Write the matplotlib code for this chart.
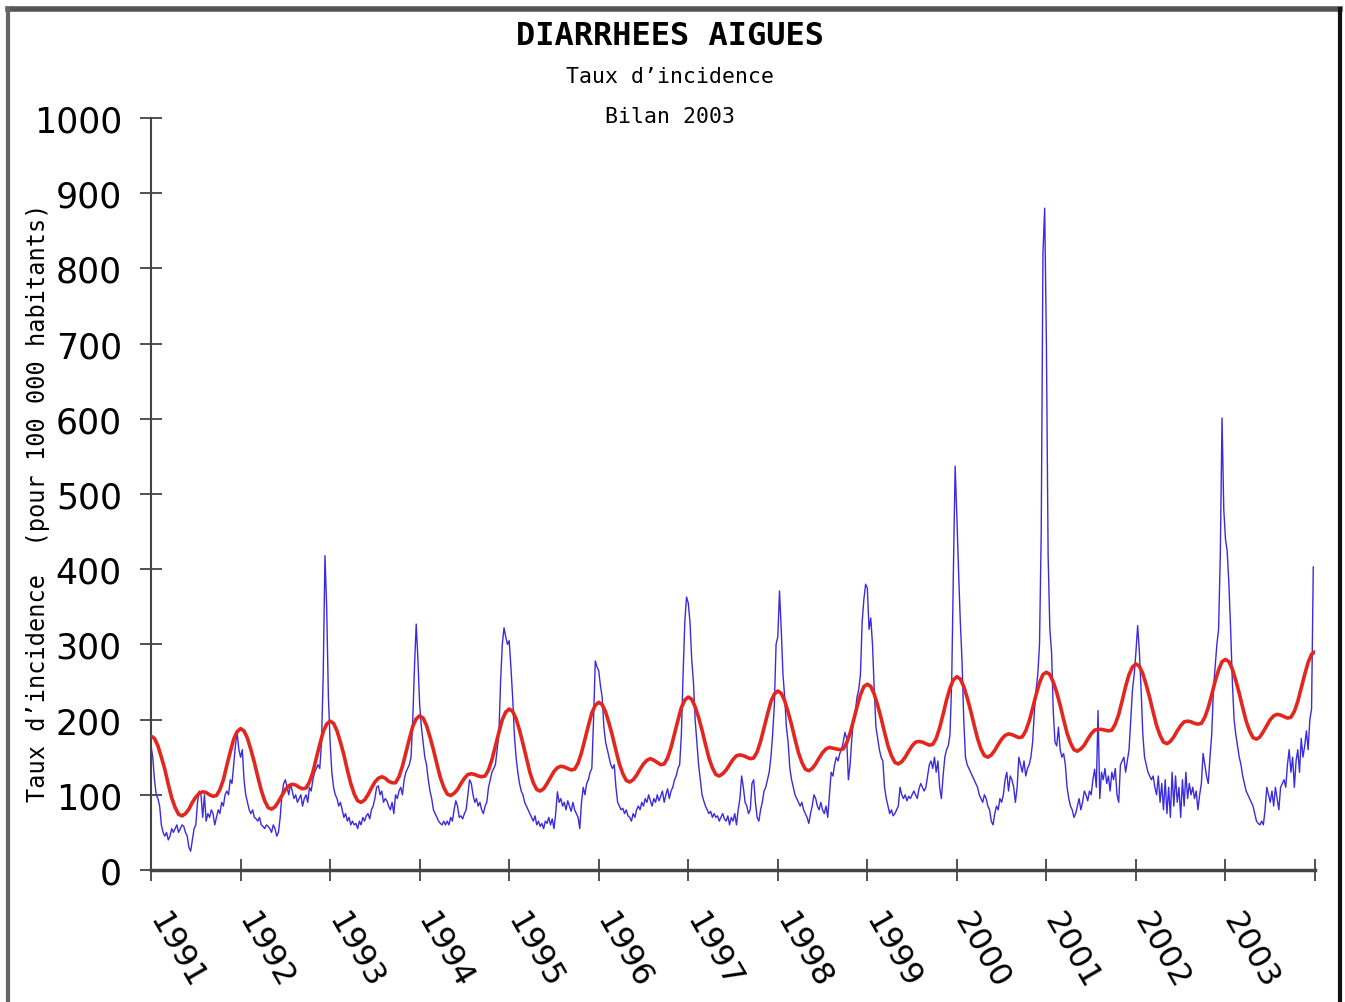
import numpy as np
import matplotlib.pyplot as plt
from matplotlib.lines import Line2D
from matplotlib.transforms import ScaledTranslation

years = list(range(1991, 2004))
year_labels = [str(y) for y in years]

# weekly incidence (52 values per year)
inc_1991 = [165, 150, 120, 100, 95, 85, 60, 50, 45, 50, 40, 45, 55,
            50, 55, 60, 50, 55, 60, 58, 50, 45, 30, 25, 40, 55,
            60, 90, 105, 100, 70, 100, 65, 75, 70, 80, 75, 60, 70,
            80, 75, 90, 85, 100, 105, 100, 120, 115, 140, 165, 183, 160]
inc_1992 = [150, 160, 120, 100, 90, 80, 75, 80, 70, 68, 65, 70, 60,
            58, 55, 60, 58, 55, 50, 60, 55, 45, 50, 70, 100, 115,
            120, 110, 100, 115, 105, 95, 100, 90, 95, 100, 85, 95, 100,
            90, 110, 105, 120, 130, 135, 140, 135, 170, 260, 418, 350, 230]
inc_1993 = [170, 130, 110, 100, 95, 85, 90, 80, 70, 75, 65, 70, 60,
            65, 60, 62, 55, 65, 60, 70, 65, 72, 75, 68, 80, 85,
            95, 110, 112, 100, 105, 90, 95, 92, 85, 80, 90, 75, 100,
            95, 105, 110, 100, 120, 130, 135, 140, 150, 200, 270, 327, 280]
inc_1994 = [220, 190, 170, 150, 140, 120, 105, 95, 80, 75, 70, 65, 62,
            60, 65, 60, 65, 60, 70, 65, 80, 92, 85, 70, 72, 68,
            75, 80, 100, 120, 115, 100, 90, 95, 85, 90, 80, 75, 85,
            90, 110, 120, 130, 135, 140, 160, 180, 250, 300, 322, 310, 300]
inc_1995 = [305, 270, 230, 180, 150, 130, 115, 105, 100, 90, 85, 80, 75,
            70, 65, 72, 60, 65, 58, 62, 55, 65, 62, 70, 60, 68,
            55, 75, 104, 90, 95, 85, 90, 80, 92, 85, 78, 90, 80,
            75, 70, 55, 90, 110, 100, 115, 120, 130, 135, 200, 278, 270]
inc_1996 = [265, 245, 230, 190, 170, 160, 150, 140, 135, 140, 110, 90, 85,
            80, 82, 75, 80, 72, 70, 65, 75, 70, 80, 85, 80, 90,
            85, 95, 90, 100, 92, 85, 95, 90, 100, 92, 98, 105, 90,
            100, 108, 95, 105, 110, 120, 125, 135, 140, 180, 260, 330, 363]
inc_1997 = [355, 330, 280, 250, 200, 170, 140, 120, 100, 92, 85, 80, 75,
            78, 70, 75, 70, 72, 65, 70, 75, 68, 65, 72, 60, 70,
            65, 75, 60, 80, 95, 125, 110, 90, 85, 75, 80, 115, 120,
            90, 70, 65, 80, 90, 105, 110, 120, 130, 150, 180, 220, 300]
inc_1998 = [310, 371, 320, 260, 230, 190, 170, 135, 120, 110, 100, 95, 90,
            85, 90, 80, 75, 70, 62, 75, 85, 100, 95, 85, 80, 90,
            80, 75, 85, 70, 100, 130, 125, 140, 150, 145, 155, 160, 170,
            183, 175, 120, 140, 175, 200, 210, 230, 240, 260, 330, 360, 380]
inc_1999 = [375, 320, 335, 300, 240, 190, 175, 160, 150, 145, 110, 95, 85,
            75, 80, 72, 75, 80, 85, 110, 100, 95, 100, 92, 98, 95,
            100, 105, 100, 95, 108, 115, 110, 105, 110, 125, 140, 145, 135,
            150, 130, 145, 110, 95, 125, 150, 160, 165, 180, 250, 400, 537]
inc_2000 = [470, 396, 330, 278, 200, 150, 140, 135, 130, 125, 120, 115, 110,
            100, 95, 90, 100, 95, 85, 80, 65, 60, 75, 85, 80, 95,
            90, 100, 120, 130, 105, 125, 120, 110, 90, 110, 150, 140, 130,
            145, 125, 135, 140, 150, 170, 210, 240, 260, 300, 450, 820, 880]
inc_2001 = [700, 418, 320, 290, 210, 170, 165, 190, 160, 150, 155, 140, 110,
            95, 85, 80, 70, 75, 85, 95, 80, 90, 105, 100, 92, 105,
            100, 120, 134, 110, 212, 95, 130, 120, 135, 115, 125, 105, 130,
            120, 135, 100, 90, 140, 145, 150, 130, 145, 160, 200, 240, 260]
inc_2002 = [290, 325, 290, 240, 180, 150, 140, 130, 125, 120, 125, 110, 100,
            125, 90, 115, 80, 120, 75, 110, 70, 130, 85, 125, 90, 110,
            70, 120, 85, 130, 95, 115, 100, 110, 95, 105, 80, 100, 115,
            155, 140, 125, 115, 150, 180, 240, 270, 300, 320, 420, 601, 480]
inc_2003 = [440, 424, 380, 320, 250, 200, 180, 165, 150, 140, 125, 115, 105,
            100, 95, 90, 85, 75, 65, 62, 60, 65, 60, 80, 110, 100,
            90, 105, 85, 110, 95, 80, 110, 115, 120, 110, 140, 160, 130,
            150, 110, 145, 160, 130, 175, 150, 165, 185, 160, 200, 214, 403]

# smoothed seasonal curve (26 values per year, every two weeks)
trend_1991 = [178, 175, 165, 150, 134, 114, 96, 83, 74, 72, 75, 81, 90,
              97, 102, 104, 103, 100, 98, 99, 107, 120, 139, 157, 174, 184]
trend_1992 = [188, 185, 175, 160, 143, 124, 106, 92, 83, 81, 84, 91, 99,
              107, 112, 114, 113, 110, 108, 109, 117, 130, 149, 167, 184, 194]
trend_1993 = [198, 195, 185, 170, 153, 133, 115, 101, 92, 90, 93, 100, 109,
              117, 122, 124, 122, 118, 116, 116, 124, 138, 156, 174, 191, 201]
trend_1994 = [205, 202, 192, 177, 160, 141, 123, 110, 101, 99, 102, 107, 115,
              122, 127, 128, 127, 125, 124, 125, 133, 147, 165, 183, 200, 210]
trend_1995 = [214, 211, 201, 186, 168, 149, 130, 116, 107, 105, 108, 115, 123,
              131, 136, 138, 137, 135, 133, 134, 142, 156, 174, 192, 209, 219]
trend_1996 = [223, 220, 210, 195, 178, 159, 141, 128, 119, 117, 120, 126, 134,
              141, 146, 148, 146, 143, 140, 141, 149, 163, 181, 199, 216, 226]
trend_1997 = [230, 227, 217, 203, 186, 167, 149, 136, 127, 125, 128, 133, 140,
              147, 152, 153, 152, 150, 148, 149, 157, 171, 189, 207, 224, 234]
trend_1998 = [238, 235, 225, 210, 193, 174, 156, 143, 134, 132, 135, 141, 149,
              156, 161, 163, 162, 161, 160, 161, 169, 182, 199, 217, 233, 244]
trend_1999 = [247, 244, 234, 219, 202, 183, 165, 152, 143, 141, 144, 150, 158,
              165, 170, 171, 170, 168, 166, 167, 175, 189, 207, 226, 242, 253]
trend_2000 = [257, 254, 244, 229, 212, 193, 175, 161, 152, 150, 153, 159, 167,
              174, 179, 181, 180, 178, 176, 177, 185, 198, 215, 233, 249, 260]
trend_2001 = [263, 260, 250, 236, 219, 200, 182, 169, 160, 158, 161, 166, 174,
              181, 186, 187, 187, 186, 185, 186, 194, 207, 225, 244, 260, 270]
trend_2002 = [274, 271, 261, 246, 229, 210, 192, 179, 170, 168, 171, 177, 185,
              192, 197, 198, 197, 195, 194, 195, 203, 216, 233, 251, 266, 277]
trend_2003 = [280, 277, 267, 252, 235, 216, 198, 185, 176, 174, 177, 184, 192,
              200, 205, 207, 206, 204, 202, 203, 211, 224, 242, 260, 276, 287]
trend_end = 290

weekly = [inc_1991, inc_1992, inc_1993, inc_1994, inc_1995, inc_1996, inc_1997,
          inc_1998, inc_1999, inc_2000, inc_2001, inc_2002, inc_2003]
trends = [trend_1991, trend_1992, trend_1993, trend_1994, trend_1995, trend_1996,
          trend_1997, trend_1998, trend_1999, trend_2000, trend_2001, trend_2002,
          trend_2003]

rate = np.concatenate(weekly)
t_rate = np.concatenate([y + np.arange(len(v)) / len(v) for y, v in zip(years, weekly)])
trend = np.concatenate(trends + [[trend_end]])
t_trend = np.concatenate([y + np.arange(len(v)) / len(v) for y, v in zip(years, trends)]
                         + [[years[-1] + 1]])

fig = plt.figure(figsize=(13.45, 10.03), dpi=100)
ax = fig.add_axes([0.1123, 0.1316, 0.8654, 0.7498])

ax.plot(t_rate, rate, color='#3a2be0', lw=1.0, zorder=2)
ax.plot(t_trend, trend, color='#e3261e', lw=2.6, zorder=3)

ax.set_xlim(years[0], years[-1] + 1)
ax.set_ylim(0, 1000)
ax.set_yticks(range(0, 1001, 100))
ax.set_xticks(range(years[0], years[-1] + 2))
ax.set_xticklabels([])

# slanted year labels, drawn as texts so they can sit right of the ticks
shift = ScaledTranslation(0.18, -0.37, fig.dpi_scale_trans)
for y, lab in zip(years, year_labels):
    ax.text(y, 0, lab, transform=ax.get_xaxis_transform() + shift,
            rotation=-60, rotation_mode='anchor', ha='left', va='top',
            fontsize=23, clip_on=False)

for s in ['top', 'right']:
    ax.spines[s].set_visible(False)
for s in ['left', 'bottom']:
    ax.spines[s].set_color('#444444')
ax.spines['left'].set_linewidth(1.5)
ax.spines['bottom'].set_linewidth(2.5)
ax.tick_params(axis='both', direction='inout', length=16, width=1.2, color='#333333')
ax.tick_params(axis='y', labelsize=25, pad=13)

mono = 'DejaVu Sans Mono'
ax.set_ylabel("Taux d\u2019incidence  (pour 100 000 habitants)", family=mono,
              fontsize=17)
ax.yaxis.set_label_coords(-0.087, 0.49)

fig.text(0.498, 0.964, 'DIARRHEES AIGUES', family=mono, fontsize=23,
         fontweight='bold', ha='center', va='center')
fig.text(0.498, 0.923, 'Taux d\u2019incidence', family=mono, fontsize=15.5,
         ha='center', va='center')
fig.text(0.498, 0.883, 'Bilan 2003', family=mono, fontsize=15.5,
         ha='center', va='center')

# outer frame of the original picture
W, H = 1345, 1003
fig.add_artist(Line2D([8 / W, 1340 / W], [1 - 10 / H, 1 - 10 / H],
                      transform=fig.transFigure, color='#555555', lw=4))
fig.add_artist(Line2D([8 / W, 8 / W], [0, 1 - 10 / H],
                      transform=fig.transFigure, color='#666666', lw=3))
fig.add_artist(Line2D([1340 / W, 1340 / W], [0, 1 - 10 / H],
                      transform=fig.transFigure, color='#111111', lw=3))

fig.savefig('out.png', dpi=100)
